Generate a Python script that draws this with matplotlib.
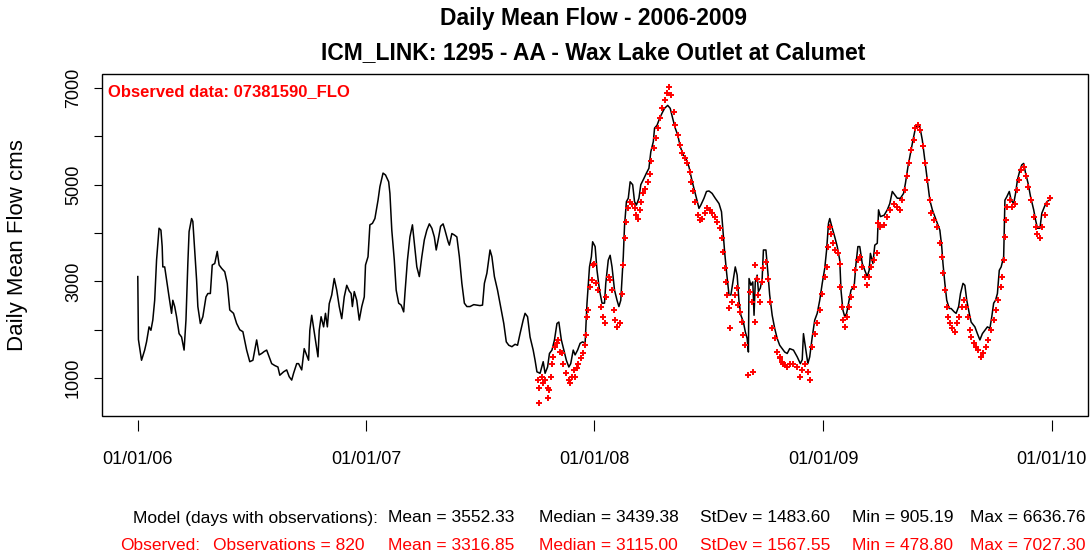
import numpy as np
import matplotlib.pyplot as plt
from matplotlib.patches import Rectangle

plt.rcParams['font.family'] = ['Liberation Sans', 'DejaVu Sans']
#________________________________________________________________________________
# data: days since 01/01/2006, daily mean flow (cms)
model_days = [0, 1, 6, 11, 14, 18, 21, 24, 27, 30, 34, 37, 39, 40, 43, 46, 50, 54, 56, 59,
              62, 66, 70, 74, 77, 80, 82, 86, 88, 91, 94, 96, 100, 104, 109, 112, 116, 119, 123, 127,
              130, 134, 139, 143, 147, 153, 158, 163, 168, 174, 179, 184, 190, 194, 198, 202, 206, 210, 214, 219,
              224, 227, 233, 238, 242, 246, 249, 254, 257, 262, 266, 273, 275, 278, 284, 288, 290, 293, 297, 300,
              303, 306, 310, 314, 318, 322, 326, 330, 334, 338, 341, 343, 346, 350, 354, 358, 362, 364, 368, 371,
              375, 379, 384, 387, 392, 396, 401, 403, 406, 410, 413, 417, 421, 425, 427, 431, 435, 439, 442, 446,
              450, 454, 458, 462, 466, 470, 474, 477, 481, 484, 488, 491, 496, 498, 502, 506, 510, 514, 518, 522,
              526, 531, 537, 542, 547, 551, 554, 558, 563, 566, 570, 575, 580, 585, 589, 593, 598, 603, 607, 611,
              616, 619, 623, 627, 632, 635, 638, 643, 648, 651, 655, 658, 662, 666, 670, 673, 677, 681, 685, 689,
              692, 696, 699, 703, 707, 711, 715, 718, 722, 725, 727, 731, 734, 738, 742, 746, 748, 752, 755, 758,
              762, 766, 769, 772, 776, 778, 781, 784, 787, 791, 794, 797, 801, 804, 809, 813, 817, 820, 824, 826,
              830, 834, 838, 842, 847, 851, 855, 859, 863, 867, 872, 875, 881, 885, 889, 893, 897, 900, 905, 909,
              913, 918, 923, 929, 933, 935, 938, 941, 945, 948, 952, 955, 958, 961, 964, 968, 971, 974, 976, 977,
              980, 983, 985, 987, 990, 992, 995, 998, 1000, 1004, 1007, 1010, 1014, 1018, 1022, 1026, 1030, 1034, 1038, 1042,
              1048, 1054, 1059, 1062, 1064, 1067, 1071, 1074, 1078, 1082, 1086, 1090, 1094, 1098, 1101, 1104, 1106, 1110, 1114, 1118,
              1122, 1124, 1127, 1130, 1133, 1137, 1140, 1145, 1148, 1151, 1154, 1158, 1162, 1166, 1169, 1171, 1175, 1178, 1182, 1184,
              1187, 1193, 1198, 1202, 1206, 1210, 1214, 1219, 1224, 1227, 1231, 1235, 1239, 1243, 1247, 1250, 1254, 1258, 1262, 1266,
              1270, 1274, 1278, 1282, 1285, 1287, 1290, 1293, 1297, 1300, 1305, 1308, 1312, 1315, 1319, 1322, 1325, 1329, 1332, 1338,
              1342, 1346, 1350, 1354, 1358, 1362, 1365, 1368, 1371, 1374, 1377, 1380, 1384, 1386, 1389, 1393, 1396, 1400, 1403, 1406,
              1410, 1413, 1416, 1419, 1423, 1427, 1432, 1435, 1438, 1442, 1445, 1449, 1453, 1457, 1460]
model_flow = [3100, 1800, 1370, 1580, 1750, 2060, 1990, 2200, 2610, 3440, 4100, 4060, 3720, 3300, 3300, 3030, 2680, 2340, 2610, 2480,
              2270, 1920, 1850, 1580, 2200, 3370, 4030, 4300, 4240, 3650, 3030, 2480, 2130, 2270, 2680, 2750, 2750, 3340, 3370, 3620,
              3340, 3270, 3200, 2960, 2410, 2340, 2130, 2000, 1960, 1580, 1340, 1370, 1790, 1480, 1510, 1550, 1580, 1440, 1300, 1260,
              1230, 1060, 1130, 1170, 1030, 960, 1100, 1300, 1300, 1170, 1610, 1370, 1990, 2300, 1790, 1440, 1990, 2270, 2060, 2340,
              2060, 2540, 2720, 3060, 2820, 2480, 2230, 2680, 2920, 2800, 2750, 2480, 2790, 2610, 2200, 2480, 2680, 3340, 3510, 4170,
              4200, 4300, 4680, 4960, 5240, 5200, 5060, 4820, 4060, 3440, 2820, 2550, 2510, 2370, 2750, 3440, 3920, 4170, 3790, 3300,
              3100, 3510, 3860, 4060, 4190, 4100, 3920, 3650, 3920, 4140, 4190, 4060, 3820, 3750, 3990, 3960, 3920, 3510, 2960, 2550,
              2480, 2480, 2520, 2510, 2500, 2510, 2960, 3170, 3650, 3510, 3100, 2820, 2480, 2130, 1750, 1680, 1650, 1700, 1680, 1920,
              2200, 2340, 2270, 1850, 1580, 1370, 1130, 1100, 1340, 1100, 1230, 1510, 1580, 1790, 2130, 2160, 1790, 1580, 1370, 1230,
              1300, 1580, 1480, 1580, 1720, 1750, 1720, 2550, 3300, 3510, 3820, 3720, 3230, 2820, 2550, 2550, 2960, 3440, 3540, 3300,
              2820, 2610, 2480, 2610, 3510, 4150, 4650, 4720, 5060, 5000, 4650, 4580, 4720, 5000, 5130, 5240, 5340, 5680, 5890, 6170,
              6230, 6370, 6480, 6580, 6640, 6580, 6370, 6170, 6030, 5790, 5610, 5580, 5370, 5130, 4920, 4720, 4510, 4580, 4720, 4860,
              4870, 4820, 4720, 4610, 4440, 4100, 3610, 3200, 2720, 2720, 3060, 3300, 3130, 2580, 2300, 2160, 1960, 1820, 1540, 3060,
              2920, 2990, 2300, 2990, 3130, 2790, 2860, 3060, 3650, 3650, 3200, 2720, 2300, 2030, 1820, 1680, 1610, 1540, 1510, 1610,
              1580, 1440, 1300, 1380, 1920, 1650, 1300, 1440, 1850, 2200, 2340, 2610, 2960, 3270, 3650, 4200, 4300, 4100, 3920, 3720,
              3440, 2820, 2410, 2270, 2340, 2610, 2820, 2890, 3370, 3720, 3720, 3370, 3230, 3100, 3230, 3580, 3370, 3750, 3790, 4480,
              4340, 4370, 4480, 4610, 4860, 4790, 4720, 4720, 4820, 5030, 5370, 5650, 5920, 6170, 6230, 6200, 5920, 5510, 5100, 4680,
              4480, 4340, 4200, 4060, 3720, 3370, 2960, 2610, 2440, 2440, 2370, 2340, 2480, 2750, 2960, 2920, 2610, 2340, 2160, 2060,
              1920, 1790, 1920, 1990, 2060, 2030, 2270, 2550, 2610, 2750, 3230, 3300, 3510, 4680, 4750, 4860, 4680, 4610, 4820, 5100,
              5300, 5410, 5440, 5240, 5030, 4750, 4480, 4270, 4100, 4100, 4410, 4540, 4650, 4680, 4720]

obs_days = [640, 641, 642, 646, 648, 651, 655, 656, 658, 660, 662, 664, 667, 670, 672, 675, 678, 680, 685, 689,
            691, 694, 697, 699, 702, 704, 708, 711, 715, 717, 718, 719, 723, 726, 727, 730, 733, 736, 740, 743,
            746, 749, 753, 755, 758, 761, 763, 766, 770, 771, 774, 776, 779, 781, 783, 786, 790, 794, 797, 799,
            802, 804, 808, 811, 815, 818, 821, 825, 828, 831, 834, 838, 842, 846, 849, 852, 857, 859, 863, 866,
            870, 874, 878, 882, 884, 888, 891, 895, 898, 902, 906, 910, 914, 918, 922, 926, 930, 933, 936, 938,
            940, 942, 945, 947, 950, 954, 957, 959, 962, 966, 968, 971, 975, 979, 982, 984, 986, 987, 990, 992,
            995, 998, 1000, 1004, 1007, 1010, 1014, 1018, 1022, 1026, 1027, 1030, 1032, 1034, 1038, 1043, 1048, 1054, 1058, 1062,
            1067, 1072, 1075, 1078, 1082, 1086, 1090, 1094, 1098, 1101, 1103, 1106, 1108, 1112, 1115, 1119, 1122, 1123, 1125, 1127,
            1130, 1134, 1136, 1140, 1145, 1147, 1151, 1154, 1158, 1162, 1166, 1168, 1172, 1176, 1181, 1183, 1187, 1193, 1198, 1203,
            1208, 1214, 1218, 1222, 1226, 1229, 1233, 1236, 1240, 1243, 1247, 1251, 1255, 1258, 1262, 1266, 1268, 1273, 1278, 1282,
            1285, 1287, 1290, 1293, 1295, 1298, 1302, 1306, 1309, 1313, 1317, 1321, 1324, 1327, 1330, 1332, 1336, 1339, 1343, 1347,
            1351, 1355, 1359, 1363, 1368, 1371, 1375, 1379, 1382, 1385, 1386, 1387, 1390, 1394, 1398, 1402, 1405, 1409, 1412, 1416,
            1419, 1423, 1427, 1432, 1435, 1438, 1442, 1446, 1450, 1454, 1458]
obs_flow = [960, 490, 790, 1030, 890, 960, 790, 580, 750, 1030, 1300, 1440, 1650, 1720, 1790, 1540, 1510, 1300, 1100, 960,
            890, 1030, 1170, 1030, 1200, 1300, 1410, 1510, 1680, 1890, 2270, 2410, 2890, 3030, 3340, 3370, 2960, 2820, 2480, 2270,
            2130, 2680, 3100, 3030, 2820, 2410, 2200, 2060, 2130, 2130, 2750, 3340, 3890, 4230, 4510, 4650, 4610, 4510, 4370, 4300,
            4480, 4650, 4820, 4920, 5060, 5230, 5480, 5750, 5960, 6170, 6370, 6580, 6750, 6890, 7010, 6860, 6510, 6230, 6030, 5820,
            5650, 5550, 5440, 5270, 5060, 4860, 4650, 4370, 4270, 4300, 4410, 4510, 4480, 4410, 4340, 4230, 4100, 3890, 3610, 3270,
            2990, 2720, 2440, 2030, 2580, 2720, 2860, 2510, 2370, 2160, 1890, 1680, 1060, 2790, 2580, 1130, 2160, 3340, 3060, 2720,
            2580, 2990, 3270, 3410, 3060, 2580, 2030, 1820, 1540, 1410, 1440, 1340, 1300, 1270, 1230, 1300, 1300, 1230, 1030, 1170,
            1300, 1130, 960, 1650, 1920, 2130, 2410, 2750, 3100, 3300, 3720, 4130, 3990, 3790, 3650, 3580, 3370, 2890, 2480, 2200,
            2060, 2270, 2480, 2680, 2890, 3230, 3440, 3510, 3300, 3100, 2920, 3100, 3300, 3440, 3580, 4200, 4130, 4170, 4340, 4480,
            4610, 4540, 4480, 4680, 4890, 5170, 5440, 5720, 5920, 6170, 6230, 6130, 5790, 5440, 5100, 4680, 4410, 4270, 4130, 3790,
            3510, 3170, 2820, 2480, 2270, 2130, 2030, 1960, 2130, 2270, 2480, 2610, 2480, 2270, 1990, 1850, 1720, 1650, 1580, 1440,
            1510, 1650, 1790, 1990, 2200, 2410, 2610, 2890, 3100, 3440, 3920, 4270, 4540, 4680, 4540, 4610, 4890, 5100, 5300, 5370,
            5170, 4960, 4680, 4340, 4130, 3990, 3890, 4130, 4370, 4610, 4720]

tick_years = [2006, 2007, 2008, 2009, 2010]
tick_labels = ['01/01/06', '01/01/07', '01/01/08', '01/01/09', '01/01/10']
y_ticks = [1000, 2000, 3000, 4000, 5000, 6000, 7000]
y_labels = ['1000', '', '3000', '', '5000', '', '7000']

model_stats = ['Mean = 3552.33', 'Median = 3439.38', 'StDev = 1483.60', 'Min = 905.19', 'Max = 6636.76']
obs_stats = ['Mean = 3316.85', 'Median = 3115.00', 'StDev = 1567.55', 'Min = 478.80', 'Max = 7027.30']
#________________________________________________________________________________
start = np.datetime64('2006-01-01')
model_dates = start + np.array(model_days).astype('timedelta64[D]')
obs_dates = start + np.array(obs_days).astype('timedelta64[D]')

W, H = 1091, 555
fig = plt.figure(figsize=(W / 100, H / 100), dpi=100)
ax = fig.add_axes([101.5 / W, 139 / H, 986 / W, 342 / H])

ax.plot(model_dates, model_flow, color='black', lw=1.1)
ax.plot(obs_dates, obs_flow, ls='none', marker='+', ms=5, mew=1.4, color='red')

ax.set_xlim(start - np.timedelta64(58, 'D'), start + np.timedelta64(1518, 'D'))
ax.set_ylim(217, 7289)
ax.set_xticks([np.datetime64(f'{y}-01-01') for y in tick_years])
ax.set_xticklabels(tick_labels)
ax.set_yticks(y_ticks)
ax.set_yticklabels(y_labels, rotation=90, va='center')

# box drawn separately so the x ticks can sit a little below it
for s in ax.spines.values():
    s.set_visible(False)
ax.spines['bottom'].set_position(('outward', 3))
ax.add_patch(Rectangle((0, 0), 1, 1, transform=ax.transAxes, fill=False,
                       ec='black', lw=1.0, clip_on=False))
ax.tick_params(axis='x', length=8, width=0.8, pad=14, labelsize=13)
ax.tick_params(axis='y', length=6, width=0.8, pad=8, labelsize=13)

ax.text(0.007, 0.95, 'Observed data: 07381590_FLO', transform=ax.transAxes,
        color='red', fontsize=12, fontweight='bold', va='center', ha='left')
#________________________________________________________________________________
# titles and labels
fig.text(593 / W, 1 - 19 / H, 'Daily Mean Flow - 2006-2009', ha='center', va='center',
         fontsize=16.5, fontweight='bold')
fig.text(593 / W, 1 - 53 / H, 'ICM_LINK: 1295 - AA - Wax Lake Outlet at Calumet', ha='center',
         va='center', fontsize=16.5, fontweight='bold')
fig.text(18 / W, 1 - 245 / H, 'Daily Mean Flow cms', rotation=90, ha='center', va='center',
         fontsize=16)
#________________________________________________________________________________
# summary statistics under the plot
stat_x = [388, 539, 700, 852, 970]
fig.text(378 / W, 1 - 518 / H, 'Model (days with observations):', ha='right', va='center',
         fontsize=12.5, color='black')
for x, s in zip(stat_x, model_stats):
    fig.text(x / W, 1 - 518 / H, s, ha='left', va='center', fontsize=12.5, color='black')
fig.text(120 / W, 1 - 545 / H, 'Observed:', ha='left', va='center', fontsize=12.5, color='red')
fig.text(213 / W, 1 - 545 / H, 'Observations = 820', ha='left', va='center', fontsize=12.5, color='red')
for x, s in zip(stat_x, obs_stats):
    fig.text(x / W, 1 - 545 / H, s, ha='left', va='center', fontsize=12.5, color='red')

fig.savefig('out.png', dpi=100)
